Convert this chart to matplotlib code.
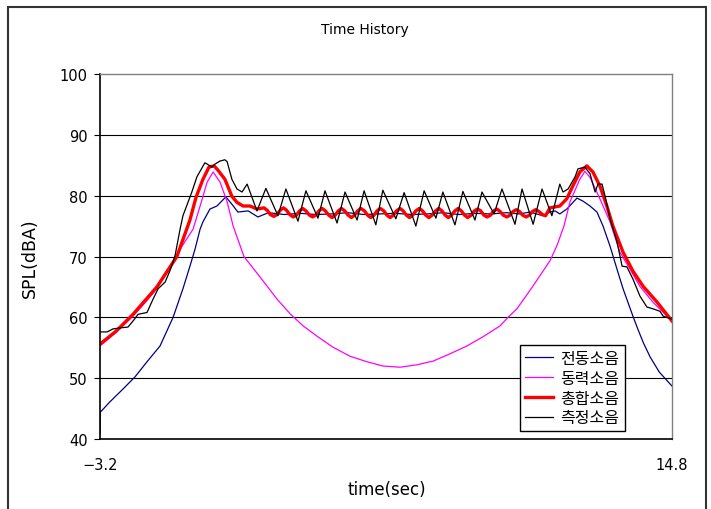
import matplotlib
matplotlib.use("Agg")
import matplotlib.pyplot as plt
from matplotlib.patches import Rectangle

plt.rcParams["font.family"] = ["DejaVu Sans", "Noto Sans CJK KR"]

labels = ["전동소음", "동력소음", "총합소음", "측정소음"]
colors = ["#000080", "#FF00FF", "#FF0000", "#000000"]
widths = [0.9, 0.9, 2.4, 0.9]

# 전동소음 (motor)
t_motor = [-3.2, -3.19, -2.89, -2.48, -2.10, -1.72, -1.31, -0.90, -0.59, -0.37, -0.21,
           -0.05, 0.04, 0.26, 0.48, 0.76, 0.95, 1.14, 1.46, 1.77, 2.1, 2.6, 3.1, 3.6,
           4.1, 4.6, 5.1, 5.6, 6.1, 6.6, 7.1, 7.6, 8.1, 8.6, 9.1, 9.6, 10.0, 10.33,
           10.74, 10.96, 11.12, 11.27, 11.49, 11.81, 12.0, 12.22, 12.44, 12.63, 12.85,
           13.07, 13.26, 13.57, 13.73, 13.90, 14.11, 14.40, 14.8]
spl_motor = [40.8, 44.4, 46.1, 48.2, 50.2, 52.7, 55.3, 60.0, 64.7, 68.4, 71.2,
             74.5, 75.7, 77.8, 78.3, 79.8, 78.6, 77.3, 77.5, 76.5, 77.2, 76.9, 77.1, 76.9,
             77.0, 77.2, 76.9, 77.0, 77.1, 76.9, 77.0, 77.2, 76.9, 77.1, 77.0, 77.2, 77.0, 77.3,
             76.7, 77.3, 77.5, 77.0, 77.8, 79.6, 79.1, 78.3, 77.3, 75.0, 71.7,
             67.9, 64.7, 60.2, 58.0, 55.8, 53.5, 51.0, 48.7]

# 동력소음 (power)
t_power = [-3.2, -2.7, -2.16, -1.8, -1.41, -0.90, -0.68, -0.27, -0.05, 0.17, 0.36, 0.58,
           0.80, 0.99, 1.33, 1.93, 2.37, 2.78, 3.19, 3.63, 4.13, 4.67, 5.20, 5.70,
           6.24, 6.77, 7.28, 7.81, 8.35, 8.85, 9.39, 9.64, 9.92, 10.42, 10.96, 11.18,
           11.40, 11.59, 11.90, 12.06, 12.22, 12.53, 12.85, 13.16, 13.48, 13.79, 14.20,
           14.64, 14.80]
spl_power = [55.3, 57.5, 60.2, 62.3, 64.7, 69.1, 71.2, 74.5, 78.3, 82.2, 83.9, 82.2,
             79.0, 75.0, 70.0, 66.0, 63.0, 60.6, 58.6, 56.9, 55.1, 53.6, 52.7, 52.0,
             51.8, 52.2, 52.8, 54.0, 55.3, 56.8, 58.6, 60.0, 61.4, 65.1, 69.3, 71.8,
             75.0, 79.0, 82.7, 84.0, 83.0, 79.5, 75.7, 70.7, 67.9, 65.1, 62.5,
             60.2, 59.4]

# 총합소음 (total): rise, ripple plateau, fall
t_total = [-3.2, -2.7, -2.16, -1.41, -0.78, -0.37, -0.18, 0.04, 0.23, 0.39, 0.51, 0.73,
           0.95, 1.11, 1.30, 1.52, 1.74,
           1.96, 2.06, 2.16, 2.27, 2.37, 2.47,
           2.57, 2.67, 2.77, 2.88, 2.98, 3.08,
           3.18, 3.28, 3.39, 3.49, 3.59, 3.69,
           3.79, 3.89, 4.00, 4.10, 4.20, 4.30,
           4.40, 4.50, 4.61, 4.71, 4.81, 4.91,
           5.01, 5.12, 5.22, 5.32, 5.42, 5.52,
           5.62, 5.73, 5.83, 5.93, 6.03, 6.13,
           6.24, 6.34, 6.44, 6.54, 6.64, 6.74,
           6.85, 6.95, 7.05, 7.15, 7.25, 7.36,
           7.46, 7.56, 7.66, 7.76, 7.86, 7.97,
           8.07, 8.17, 8.27, 8.37, 8.48, 8.58,
           8.68, 8.78, 8.88, 8.98, 9.09, 9.19,
           9.29, 9.39, 9.49, 9.60, 9.70, 9.80,
           9.90, 10.00, 10.10, 10.21, 10.31, 10.41,
           10.51, 10.61, 10.72, 10.82,
           10.96, 11.27, 11.49, 11.68, 11.90, 12.12, 12.31, 12.53, 12.75, 12.94, 13.26,
           13.57, 13.89, 14.33, 14.8]
spl_total = [55.6, 57.7, 60.5, 65.0, 70.0, 76.0, 79.7, 82.7, 84.7, 84.9, 84.2, 82.7,
             79.9, 78.9, 78.3, 78.3, 77.8,
             78.0, 77.6, 76.9, 76.6, 76.9, 77.6,
             78.0, 77.6, 76.9, 76.5, 76.8, 77.5,
             77.9, 77.5, 76.8, 76.5, 76.8, 77.5,
             77.9, 77.5, 76.8, 76.4, 76.8, 77.5,
             77.9, 77.5, 76.8, 76.4, 76.8, 77.5,
             77.9, 77.5, 76.8, 76.4, 76.8, 77.5,
             77.9, 77.5, 76.8, 76.4, 76.8, 77.5,
             77.9, 77.5, 76.8, 76.4, 76.8, 77.5,
             77.9, 77.5, 76.8, 76.4, 76.8, 77.5,
             77.9, 77.5, 76.8, 76.4, 76.8, 77.5,
             77.9, 77.5, 76.8, 76.4, 76.8, 77.5,
             77.8, 77.5, 76.8, 76.5, 76.8, 77.5,
             77.8, 77.4, 76.8, 76.5, 76.8, 77.4,
             77.7, 77.4, 76.8, 76.5, 76.8, 77.4,
             77.7, 77.4, 76.9, 76.7,
             78.0, 78.3, 79.5, 81.6, 83.9, 84.9, 83.9, 81.6, 78.3, 75.0, 70.7,
             67.6, 65.1, 62.5, 59.4]

# 측정소음 (measured)
t_meas = [-3.2, -2.98, -2.79, -2.51, -2.32, -2.16, -2.00, -1.72, -1.53, -1.37, -1.15,
          -0.98, -0.84, -0.68, -0.59, -0.31, -0.15, 0.10, 0.17, 0.32, 0.42, 0.58, 0.73,
          0.80, 0.95, 1.11, 1.27, 1.43, 1.74, 2.02, 2.40, 2.65, 3.03, 3.28, 3.66, 3.88,
          4.26, 4.51, 4.89, 5.11, 5.48, 5.70, 6.11, 6.37, 6.74, 7.00, 7.37, 7.59, 7.97,
          8.22, 8.60, 8.82, 9.20, 9.45, 9.86, 10.08, 10.43, 10.71, 11.02, 11.27, 11.37,
          11.53, 11.75, 11.84, 12.06, 12.22, 12.38, 12.47, 12.60, 12.69, 12.85, 13.07,
          13.23, 13.38, 13.57, 13.79, 14.01, 14.20, 14.42, 14.52, 14.8]
spl_meas = [57.6, 57.6, 58.1, 58.3, 58.4, 59.4, 60.5, 60.8, 63.0, 64.7, 65.8,
            67.9, 70.1, 74.5, 76.7, 80.6, 83.1, 85.4, 85.2, 84.7, 85.2, 85.7, 85.9,
            85.6, 82.7, 81.1, 80.6, 81.9, 77.5, 81.2, 76.7, 81.1, 75.8, 80.8, 76.3, 80.8,
            75.5, 80.6, 76.0, 80.8, 75.2, 80.9, 76.2, 80.5, 75.0, 80.8, 76.3, 80.6, 75.2,
            80.7, 76.0, 80.6, 77.0, 81.1, 75.3, 81.1, 75.3, 81.1, 76.7, 81.9, 80.6,
            81.1, 83.1, 84.4, 84.7, 83.6, 80.6, 81.9, 81.9, 80.0, 76.2, 72.4,
            68.4, 68.3, 66.3, 63.5, 61.7, 61.4, 61.0, 60.2, 59.7]

x_ticks = [-3.2, 14.8]
y_ticks = [40, 50, 60, 70, 80, 90, 100]

fig = plt.figure(figsize=(7.11, 5.10), dpi=100)
ax = fig.add_axes([100 / 711, 1 - 440 / 510, 572 / 711, 365 / 510])

for y in y_ticks[1:-1]:
    ax.axhline(y, color="black", lw=0.8, zorder=1)

series = [(t_motor, spl_motor), (t_power, spl_power), (t_total, spl_total), (t_meas, spl_meas)]
for (t, v), lab, c, w in zip(series, labels, colors, widths):
    ax.plot(t, v, color=c, lw=w, label=lab, zorder=2)

ax.set_xlim(-3.2, 14.8)
ax.set_ylim(40, 100)
ax.set_xticks(x_ticks)
ax.set_xticklabels(["\u22123.2", "14.8"])
ax.set_yticks(y_ticks)
ax.tick_params(axis="x", length=0, pad=13, labelsize=10.5)
ax.tick_params(axis="y", direction="out", length=4, width=0.8, pad=5, labelsize=10.5)
for s in ("left", "bottom"):
    ax.spines[s].set_color("black")
    ax.spines[s].set_linewidth(1.2)
for s in ("top", "right"):
    ax.spines[s].set_color("#808080")
    ax.spines[s].set_linewidth(1.0)

leg = ax.legend(loc="lower right", bbox_to_anchor=(0.918, 0.022), borderaxespad=0,
                fancybox=False, framealpha=1, edgecolor="black", fontsize=11.5,
                handlelength=1.75, handletextpad=0.45, labelspacing=0.3,
                borderpad=0.35)
leg.get_frame().set_linewidth(1.0)

fig.text(365 / 711, 1 - 30 / 510, "Time History", ha="center", va="center", fontsize=10)
fig.text(387 / 711, 1 - 490 / 510, "time(sec)", ha="center", va="center", fontsize=12)
fig.text(30 / 711, 1 - 258 / 510, "SPL(dBA)", ha="center", va="center",
         rotation=90, fontsize=12.5)

fig.add_artist(Rectangle((8 / 711, -0.05), 698 / 711, 1 - 8 / 510 + 0.05,
                         transform=fig.transFigure, fill=False,
                         edgecolor="#333333", lw=1.5))

fig.savefig("out.png", dpi=100)
